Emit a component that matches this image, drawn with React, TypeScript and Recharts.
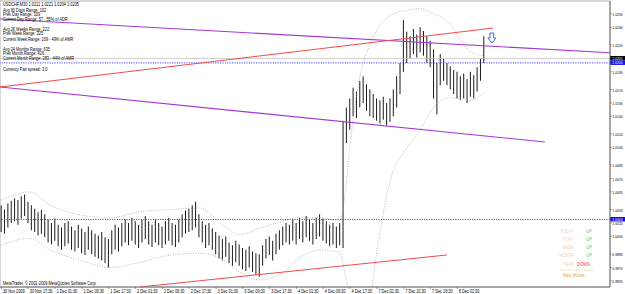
import React from 'react';
import {
  ComposedChart,
  Bar,
  Line,
  XAxis,
  YAxis,
  ReferenceLine,
  ReferenceArea,
  ReferenceDot,
} from 'recharts';

// M30 bars, every second bar of the chart (bar index = i * 2)
const highs = [
  1.0040, 1.0035, 1.0042, 1.0045, 1.0048, 1.0046, 1.0050, 1.0052, 1.0044, 1.0040,
  1.0036, 1.0032, 1.0035, 1.0030, 1.0024, 1.0020, 1.0025, 1.0018, 1.0015, 1.0020,
  1.0022, 1.0016, 1.0012, 1.0018, 1.0014, 1.0010, 1.0016, 1.0012, 1.0008, 1.0006,
  1.0010, 1.0004, 1.0002, 1.0012, 1.0018, 1.0015, 1.0020, 1.0024, 1.0020, 1.0026,
  1.0022, 1.0018, 1.0024, 1.0028, 1.0022, 1.0018, 1.0024, 1.0020, 1.0016, 1.0022,
  1.0026, 1.0020, 1.0018, 1.0024, 1.0030, 1.0034, 1.0036, 1.0040, 1.0044, 1.0030,
  1.0022, 1.0018, 1.0020, 1.0014, 1.0010, 1.0006, 1.0002, 1.0005, 0.9998, 0.9995,
  1.0000, 0.9996, 0.9992, 0.9990, 0.9994, 0.9988, 0.9986, 0.9985, 0.9995, 1.0002,
  1.0005, 1.0000, 1.0008, 1.0012, 1.0016, 1.0020, 1.0018, 1.0024, 1.0020, 1.0026,
  1.0022, 1.0028, 1.0024, 1.0020, 1.0026, 1.0030, 1.0025, 1.0022, 1.0018, 1.0020,
  1.0016, 1.0020, 1.0135, 1.0150, 1.0160, 1.0172, 1.0168, 1.0180, 1.0185, 1.0176,
  1.0170, 1.0165, 1.0160, 1.0158, 1.0162, 1.0155, 1.0160, 1.0170, 1.0185, 1.0200,
  1.0248, 1.0235, 1.0230, 1.0238, 1.0232, 1.0240, 1.0236, 1.0230, 1.0225, 1.0215,
  1.0200, 1.0210, 1.0205, 1.0200, 1.0196, 1.0192, 1.0190, 1.0185, 1.0188, 1.0182,
  1.0190, 1.0186, 1.0195, 1.0205, 1.0230,
];
const lows = [
  1.0010, 1.0008, 1.0015, 1.0020, 1.0022, 1.0018, 1.0025, 1.0028, 1.0020, 1.0012,
  1.0010, 1.0006, 1.0008, 1.0004, 0.9998, 0.9996, 1.0000, 0.9994, 0.9990, 0.9994,
  0.9997, 0.9990, 0.9988, 0.9992, 0.9986, 0.9984, 0.9990, 0.9985, 0.9982, 0.9980,
  0.9978, 0.9975, 0.9970, 0.9985, 0.9990, 0.9988, 0.9994, 0.9998, 0.9995, 1.0000,
  0.9996, 0.9992, 0.9998, 1.0002, 0.9996, 0.9993, 0.9998, 0.9995, 0.9992, 0.9996,
  1.0000, 0.9995, 0.9993, 0.9998, 1.0004, 1.0008, 1.0010, 1.0012, 1.0015, 1.0004,
  0.9998, 0.9992, 0.9995, 0.9990, 0.9985, 0.9980, 0.9978, 0.9982, 0.9975, 0.9972,
  0.9976, 0.9972, 0.9968, 0.9966, 0.9970, 0.9965, 0.9962, 0.9960, 0.9972, 0.9980,
  0.9984, 0.9978, 0.9985, 0.9990, 0.9995, 0.9998, 0.9996, 1.0000, 0.9996, 1.0002,
  0.9998, 1.0004, 1.0000, 0.9996, 1.0002, 1.0005, 1.0000, 0.9997, 0.9994, 0.9996,
  0.9992, 0.9995, 0.9992, 1.0110, 1.0125, 1.0140, 1.0138, 1.0150, 1.0155, 1.0146,
  1.0140, 1.0138, 1.0135, 1.0132, 1.0136, 1.0130, 1.0134, 1.0140, 1.0150, 1.0165,
  1.0190, 1.0200, 1.0205, 1.0210, 1.0206, 1.0212, 1.0208, 1.0200, 1.0195, 1.0160,
  1.0142, 1.0175, 1.0180, 1.0175, 1.0170, 1.0165, 1.0160, 1.0158, 1.0160, 1.0155,
  1.0162, 1.0160, 1.0168, 1.0180, 1.0200,
];

// dotted envelope
const bandIdx = [0, 17, 29, 47, 65, 83, 101, 118, 130, 142, 154, 166, 178, 190, 202, 205, 208, 211, 214, 219, 225, 232, 241, 250, 256, 262, 268, 274, 280, 288];
const upperBand = [1.0046, 1.0055, 1.0040, 1.0029, 1.0026, 1.0033, 1.0035, 1.0037, 1.0021, 1.0007, 1.0014, 1.0021, 1.0026, 1.0026, 1.0023, 1.0052, 1.0108, 1.0153, 1.0186, 1.0217, 1.0240, 1.0253, 1.0259, 1.0261, 1.0257, 1.0252, 1.0243, 1.0226, 1.0212, 1.0208];
const lowerBand = [0.9995, 1.0003, 0.9990, 0.9978, 0.9970, 0.9976, 0.9984, 0.9986, 0.9981, 0.9965, 0.9956, 0.9962, 0.9981, 0.9990, 0.9987, 0.9962, 0.9934, 0.9911, 0.9900, 0.9922, 1.0001, 1.0068, 1.0102, 1.0125, 1.0145, 1.0158, 1.0161, 1.0159, 1.0158, 1.0167];

const timeTicks = [0, 16, 32, 48, 64, 80, 96, 112, 128, 144, 160, 176, 192, 208, 224, 240, 256, 272];
const timeLabels = [
  '30 Nov 2009', '30 Nov 17:30', '1 Dec 01:30', '1 Dec 09:30', '1 Dec 17:30', '2 Dec 01:30',
  '2 Dec 09:30', '2 Dec 17:30', '3 Dec 01:30', '3 Dec 09:30', '3 Dec 17:30', '4 Dec 01:30',
  '4 Dec 09:30', '4 Dec 17:30', '7 Dec 02:30', '7 Dec 10:30', '7 Dec 18:30', '8 Dec 02:30',
];
const priceTicks = [1.0255, 1.024, 1.022, 1.019, 1.017, 1.0155, 1.014, 1.012, 1.0105, 1.0085, 1.007, 1.0055, 1.0035, 1.002, 1.0005, 0.9985, 0.997, 0.9955];

// drawn objects: [barIndex, price] end points
const purpleUpper = [[-0.9, 1.02493], [363.1, 1.02114]];
const purpleLower = [[-0.9, 1.01729], [324.3, 1.01111]];
const redUpper = [[-0.9, 1.01729], [293.3, 1.02392]];
const redLower = [[82.6, 0.99481], [265.8, 0.99841]];
const bidPrice = 1.0205;
const hLines = [1.02, 1.0024];
const arrowPoint = [292.6, 1.0228];

const infoLines = [
  'USDCHF,M30  1.0211 1.0221 1.0204 1.0205',
  'Avg 60 Days Range: 102',
  'Prev Day Range: 109',
  'Current Day Range: 57 - 55% of ADR',
  'Avg 26 Weeks Range: 222',
  'Prev Week Range: 225',
  'Current Week Range: 109 - 49% of AWR',
  'Avg 24 Months Range: 635',
  'Prev Month Range: 426',
  'Current Month Range: 283 - 44% of AMR',
  'Currency Pair spread: 3.0',
];
const infoY = [5.6, 11.6, 16, 20.8, 30.6, 35.3, 40.8, 50.6, 55.3, 60, 70.6];
const moveNames = ['TODAY', 'Y-DAY', 'WEEK', 'MONTH', 'YEAR'];
const moveDirs = ['UP', 'UP', 'UP', 'UP', 'DOWN'];

const FONT = '"Liberation Sans", Arial, sans-serif';
const SX = 0.78;
const Y_MIN = 0.99481;
const Y_MAX = 1.02696;

const bars = highs.map((h, i) => ({ n: i * 2, range: [lows[i], h] }));
const bands = bandIdx.map((n, i) => ({ n, upper: upperBand[i], lower: lowerBand[i] }));

const seg = (p: number[][]) => [
  { x: p[0][0], y: p[0][1] },
  { x: p[1][0], y: p[1][1] },
];

// small, horizontally condensed text (the screenshot is downscaled Tahoma)
const T = ({ x, y, size = 5, fill = '#000', anchor = 'start', children }: any) => (
  <text
    transform={`translate(${x},${y}) scale(${SX},1)`}
    fontSize={size}
    fontFamily={FONT}
    fill={fill}
    textAnchor={anchor}
  >
    {children}
  </text>
);

const TimeTick = (props: any) => {
  const { x, y, payload } = props;
  const label = timeLabels[timeTicks.indexOf(payload.value)];
  return (
    <g>
      <line x1={x} y1={y} x2={x} y2={y + 2} stroke="#555" strokeWidth={0.6} />
      <T x={x + 1.5} y={y + 5.8} size={4.9}>
        {label}
      </T>
    </g>
  );
};

const PriceTick = (props: any) => {
  const { x, y, payload } = props;
  return (
    <g>
      <line x1={x} y1={y} x2={x + 1.8} y2={y} stroke="#555" strokeWidth={0.6} />
      <T x={x + 2.3} y={y + 2} size={4.4}>
        {payload.value.toFixed(4)}
      </T>
    </g>
  );
};

const priceBox = (bg: string, text: string) => (props: any) => {
  const vb = props.viewBox;
  const right = vb.x + vb.width;
  return (
    <g>
      <rect x={right} y={vb.y - 2.5} width={15} height={4.5} fill={bg} />
      <T x={right + 2.3} y={vb.y + 1.4} size={4.3} fill="#fff">
        {text}
      </T>
    </g>
  );
};

const DownArrow = (props: any) => {
  const { cx, cy } = props;
  const d = `M${cx - 1.8},${cy - 5} L${cx + 1.8},${cy - 5} L${cx + 1.8},${cy} L${cx + 4},${cy} L${cx},${cy + 5} L${cx - 4},${cy} L${cx - 1.8},${cy} Z`;
  return <path d={d} fill="#fff" stroke="#2a5ad8" strokeWidth={0.9} />;
};

export default function App() {
  return (
    <div style={{ position: 'absolute', left: 0, top: 0, width: 625, height: 294, background: '#fff' }}>
      <ComposedChart width={625} height={294} data={bars} margin={{ top: 1, right: 0, bottom: 0, left: 0 }}>
        <XAxis
          type="number"
          dataKey="n"
          domain={[-0.9, 363.1]}
          ticks={timeTicks}
          interval={0}
          tick={<TimeTick />}
          tickSize={0}
          tickMargin={0}
          tickLine={false}
          height={7}
          allowDataOverflow
          axisLine={{ stroke: '#777' }}
        />
        <YAxis
          orientation="right"
          type="number"
          domain={[Y_MIN, Y_MAX]}
          ticks={priceTicks}
          interval={0}
          tick={<PriceTick />}
          tickSize={0}
          tickMargin={0}
          tickLine={false}
          width={15}
          allowDataOverflow
          axisLine={{ stroke: '#777' }}
        />
        <ReferenceArea x1={-0.9} x2={363.1} y1={Y_MIN} y2={Y_MAX} fill="none" stroke="#999" strokeWidth={0.8} ifOverflow="visible" />
        <Line data={bands} dataKey="upper" type="monotone" stroke="#a8a8a8" strokeWidth={0.8} strokeDasharray="1 1.5" dot={false} isAnimationActive={false} />
        <Line data={bands} dataKey="lower" type="monotone" stroke="#a8a8a8" strokeWidth={0.8} strokeDasharray="1 1.5" dot={false} isAnimationActive={false} />
        <ReferenceLine y={bidPrice} stroke="#c4c4c4" strokeWidth={0.8} label={{ content: priceBox('#000', '1.0205') }} />
        <ReferenceLine y={hLines[0]} stroke="#4848ff" strokeWidth={1} strokeDasharray="1.2 1.2" label={{ content: priceBox('#1010e8', '1.0200') }} />
        <ReferenceLine y={hLines[1]} stroke="#4848ff" strokeWidth={1} strokeDasharray="1.2 1.2" label={{ content: priceBox('#1010e8', '1.0024') }} />
        <ReferenceLine segment={seg(purpleUpper)} stroke="#a636d6" strokeWidth={1.1} ifOverflow="visible" />
        <ReferenceLine segment={seg(purpleLower)} stroke="#a636d6" strokeWidth={1.1} ifOverflow="visible" />
        <ReferenceLine segment={seg(redUpper)} stroke="#f04c4c" strokeWidth={1} ifOverflow="visible" />
        <ReferenceLine segment={seg(redLower)} stroke="#f04c4c" strokeWidth={1} ifOverflow="visible" />
        <Bar dataKey="range" fill="#1a1a1a" barSize={1} isAnimationActive={false} />
        <ReferenceDot x={arrowPoint[0]} y={arrowPoint[1]} r={4} shape={<DownArrow />} ifOverflow="visible" />
      </ComposedChart>
      <svg width={625} height={294} style={{ position: 'absolute', left: 0, top: 0, pointerEvents: 'none' }}>
        {infoLines.map((t, i) => (
          <T key={t} x={3} y={infoY[i]} size={5}>
            {t}
          </T>
        ))}
        <T x={3} y={285} size={5}>
          MetaTrader, © 2001-2009 MetaQuotes Software Corp.
        </T>
        {moveNames.map((t, i) => (
          <g key={t}>
            <T x={574} y={232.7 + i * 8.2} size={5.2} fill="#f5d2b4" anchor="end">
              {t}
            </T>
            <T x={577 + (moveDirs[i] === 'UP' ? 9 : 0)} y={232.7 + i * 8.2} size={5.2} fill={moveDirs[i] === 'UP' ? '#3ee83e' : '#ff3030'}>
              {moveDirs[i]}
            </T>
          </g>
        ))}
        <line x1={560} y1={270} x2={593} y2={270} stroke="#f0a040" strokeWidth={0.7} strokeDasharray="0.7 0.9" />
        <T x={563} y={276.5} size={5.2} fill="#f0a040">
          Main Moves
        </T>
      </svg>
    </div>
  );
}
